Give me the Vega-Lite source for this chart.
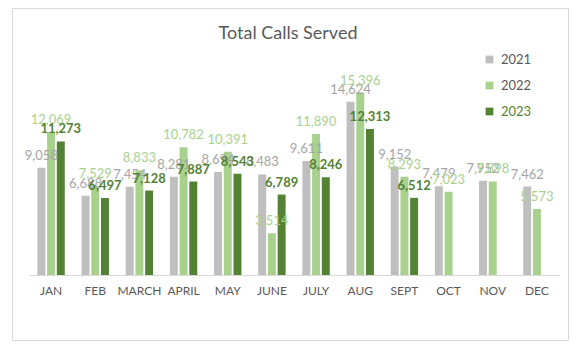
{
  "$schema": "https://vega.github.io/schema/vega-lite/v6.json",
  "autosize": "none",
  "padding": {"left": 12, "top": 8, "right": 10, "bottom": 15},
  "width": 556,
  "height": 332,
  "background": "white",
  "title": {
    "text": "Total Calls Served",
    "anchor": "middle",
    "frame": "group",
    "orient": "top",
    "baseline": "alphabetic",
    "offset": -49,
    "dx": -2,
    "font": "Lato",
    "fontSize": 18,
    "fontWeight": "normal",
    "color": "#595959"
  },
  "config": {
    "view": {"stroke": "#D9D9D9", "strokeWidth": 1},
    "font": "Lato"
  },
  "data": {
    "values": [
      {"month": "JAN", "year": "2021", "calls": 9058},
      {"month": "JAN", "year": "2022", "calls": 12069},
      {"month": "JAN", "year": "2023", "calls": 11273},
      {"month": "FEB", "year": "2021", "calls": 6688},
      {"month": "FEB", "year": "2022", "calls": 7529},
      {"month": "FEB", "year": "2023", "calls": 6497},
      {"month": "MARCH", "year": "2021", "calls": 7454},
      {"month": "MARCH", "year": "2022", "calls": 8833},
      {"month": "MARCH", "year": "2023", "calls": 7128},
      {"month": "APRIL", "year": "2021", "calls": 8281},
      {"month": "APRIL", "year": "2022", "calls": 10782},
      {"month": "APRIL", "year": "2023", "calls": 7887},
      {"month": "MAY", "year": "2021", "calls": 8694},
      {"month": "MAY", "year": "2022", "calls": 10391},
      {"month": "MAY", "year": "2023", "calls": 8543},
      {"month": "JUNE", "year": "2021", "calls": 8483},
      {"month": "JUNE", "year": "2022", "calls": 3514},
      {"month": "JUNE", "year": "2023", "calls": 6789},
      {"month": "JULY", "year": "2021", "calls": 9611},
      {"month": "JULY", "year": "2022", "calls": 11890},
      {"month": "JULY", "year": "2023", "calls": 8246},
      {"month": "AUG", "year": "2021", "calls": 14624},
      {"month": "AUG", "year": "2022", "calls": 15396},
      {"month": "AUG", "year": "2023", "calls": 12313},
      {"month": "SEPT", "year": "2021", "calls": 9152},
      {"month": "SEPT", "year": "2022", "calls": 8293},
      {"month": "SEPT", "year": "2023", "calls": 6512},
      {"month": "OCT", "year": "2021", "calls": 7479},
      {"month": "OCT", "year": "2022", "calls": 7023},
      {"month": "NOV", "year": "2021", "calls": 7952},
      {"month": "NOV", "year": "2022", "calls": 7898},
      {"month": "DEC", "year": "2021", "calls": 7462},
      {"month": "DEC", "year": "2022", "calls": 5573}
    ]
  },
  "encoding": {
    "x": {
      "field": "month",
      "type": "nominal",
      "sort": ["JAN", "FEB", "MARCH", "APRIL", "MAY", "JUNE", "JULY", "AUG", "SEPT", "OCT", "NOV", "DEC"],
      "scale": {"range": [17, 547], "paddingInner": 0.38, "paddingOuter": 0.19},
      "axis": {
        "title": null,
        "labelAngle": 0,
        "ticks": false,
        "offset": -65,
        "domainColor": "#D9D9D9",
        "labelColor": "#595959",
        "labelFont": "Lato",
        "labelFontSize": 12,
        "labelPadding": 10
      }
    },
    "xOffset": {
      "field": "year",
      "type": "nominal",
      "sort": ["2021", "2022", "2023"],
      "scale": {"domain": ["2021", "2022", "2023"], "paddingInner": 0.18, "paddingOuter": 0}
    },
    "y": {
      "field": "calls",
      "type": "quantitative",
      "scale": {"domain": [0, 18000], "range": [267, 53.7], "nice": false, "zero": true},
      "axis": null
    }
  },
  "layer": [
    {
      "mark": {"type": "bar"},
      "encoding": {
        "color": {
          "field": "year",
          "type": "nominal",
          "scale": {"domain": ["2021", "2022", "2023"], "range": ["#BFBFBF", "#A9D18E", "#548235"]},
          "legend": {
            "title": null,
            "orient": "none",
            "legendX": 471,
            "legendY": 45,
            "direction": "vertical",
            "symbolType": "square",
            "symbolSize": 60,
            "symbolStrokeWidth": 0,
            "rowPadding": 12,
            "padding": 0,
            "labelFont": "Lato",
            "labelFontSize": 13,
            "labelOffset": 5,
            "labelColor": "#595959",
            "encode": {
              "labels": {
                "update": {
                  "fill": {"signal": "datum.value === '2023' ? '#548235' : '#595959'"}
                }
              }
            }
          }
        }
      }
    },
    {
      "transform": [{"filter": "datum.year === '2021'"}],
      "mark": {"type": "text", "baseline": "bottom", "dy": -5, "fontSize": 13, "font": "Lato", "color": "#A5A5A5"},
      "encoding": {"text": {"field": "calls", "type": "quantitative", "format": ","}}
    },
    {
      "transform": [{"filter": "datum.year === '2022'"}],
      "mark": {"type": "text", "baseline": "bottom", "dy": -5, "fontSize": 13, "font": "Lato", "color": "#A9D18E"},
      "encoding": {"text": {"field": "calls", "type": "quantitative", "format": ","}}
    },
    {
      "transform": [{"filter": "datum.year === '2023'"}],
      "mark": {"type": "text", "baseline": "bottom", "dy": -5, "fontSize": 13, "font": "Lato", "fontWeight": "bold", "color": "#548235"},
      "encoding": {"text": {"field": "calls", "type": "quantitative", "format": ","}}
    }
  ]
}
